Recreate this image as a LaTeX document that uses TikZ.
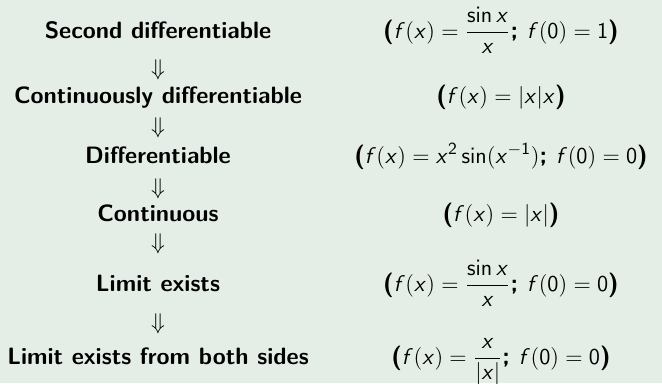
\documentclass[tikz,border=0pt]{standalone}
\usepackage{amsmath}
\DeclareSymbolFont{sfletters}{OT1}{cmss}{m}{sl}
\DeclareSymbolFont{sfops}{OT1}{cmss}{m}{n}
\DeclareMathSymbol{f}{\mathalpha}{sfletters}{`f}
\DeclareMathSymbol{x}{\mathalpha}{sfletters}{`x}
\DeclareMathSymbol{0}{\mathalpha}{sfops}{`0}
\DeclareMathSymbol{1}{\mathalpha}{sfops}{`1}
\DeclareMathSymbol{2}{\mathalpha}{sfops}{`2}
\makeatletter
\def\operator@font{\mathgroup\symsfops}
\makeatother
\definecolor{bgc}{RGB}{228,238,230}
\tikzset{
  lbl/.style={anchor=base, inner sep=0pt, font=\fontsize{12.5}{15}\selectfont\sffamily\bfseries},
  ex/.style={anchor=base, inner sep=0pt, font=\fontsize{13}{15.6}\selectfont\sffamily\bfseries},
  imp/.style={anchor=base, inner sep=0pt, font=\fontsize{12}{14}\selectfont}
}
\begin{document}
\begin{tikzpicture}[x=0.5287pt, y=-0.5287pt]
\fill[bgc] (0,0) rectangle (662,383);
\useasboundingbox (0,0) rectangle (662,383);
\node[lbl] (l1) at (158,38) {Second differentiable};
\node[lbl] (l2) at (158,103) {Continuously differentiable};
\node[lbl] (l3) at (158,163) {Differentiable};
\node[lbl] (l4) at (158,221) {Continuous};
\node[lbl] (l5) at (158,291) {Limit exists};
\node[lbl] (l6) at (158,364) {Limit exists from both sides};
\node[imp] (a1) at (158,75) {$\Downarrow$};
\node[imp] (a2) at (158,133) {$\Downarrow$};
\node[imp] (a3) at (158,194) {$\Downarrow$};
\node[imp] (a4) at (158,249) {$\Downarrow$};
\node[imp] (a5) at (158,329) {$\Downarrow$};
\node[ex] (e1) at (501,38) {($f(x) = \dfrac{\sin x}{x}$; $f(0) = 1$)};
\node[ex] (e2) at (501,103) {($f(x) = |x|x$)};
\node[ex] (e3) at (501,163) {($f(x) = x^2\sin(x^{-1})$; $f(0) = 0$)};
\node[ex] (e4) at (501,221) {($f(x) = |x|$)};
\node[ex] (e5) at (501,291) {($f(x) = \dfrac{\sin x}{x}$; $f(0) = 0$)};
\node[ex] (e6) at (501,364) {($f(x) = \dfrac{x}{|x|}$; $f(0) = 0$)};
\end{tikzpicture}
\end{document}
